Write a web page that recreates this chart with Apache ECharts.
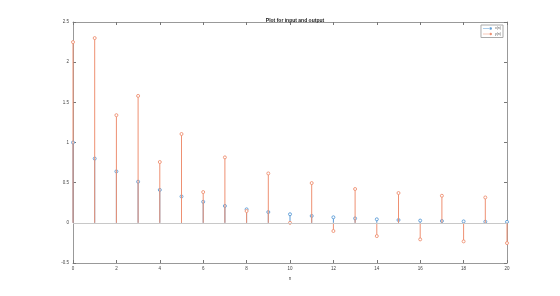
<!DOCTYPE html>
<html>
<head>
<meta charset="utf-8">
<script src="https://cdn.jsdelivr.net/npm/echarts@6/dist/echarts.min.js"></script>
<style>
html, body { margin: 0; padding: 0; background: #fff; }
#main { width: 560px; height: 296px; }
</style>
</head>
<body>
<div id="main"></div>
<script>
var n = [0, 1, 2, 3, 4, 5, 6, 7, 8, 9, 10, 11, 12, 13, 14, 15, 16, 17, 18, 19, 20];
// input x(n)
var xn = [1.0, 0.8, 0.64, 0.512, 0.41, 0.328, 0.262, 0.21, 0.168, 0.134, 0.107,
    0.086, 0.069, 0.055, 0.044, 0.035, 0.028, 0.023, 0.018, 0.014, 0.012];
// output y(n)
var yn = [2.25, 2.3, 1.34, 1.58, 0.757, 1.106, 0.383, 0.815, 0.147, 0.615, 0.0,
    0.495, -0.102, 0.421, -0.165, 0.371, -0.206, 0.337, -0.231, 0.316, -0.252];
var xTicks = { min: 0, max: 20, interval: 2 };
var yTicks = { min: -0.5, max: 2.5, interval: 0.5 };

var blue = '#5a9bd6';
var orange = '#ee9072';

function pairs(ys) {
    return n.map(function (v, i) { return [v, ys[i]]; });
}

function stem(params, api) {
    var x = api.value(0), y = api.value(1);
    var p0 = api.coord([x, 0]);
    var p1 = api.coord([x, y]);
    var c = api.visual('color');
    return {
        type: 'group',
        children: [
            { type: 'line', shape: { x1: p0[0], y1: p0[1], x2: p1[0], y2: p1[1] },
              style: { stroke: c, lineWidth: 1 } },
            { type: 'circle', shape: { cx: p1[0], cy: p1[1], r: 1.5 },
              style: { fill: '#fff', stroke: c, lineWidth: 0.9 } }
        ]
    };
}

function axisCommon() {
    return {
        axisLine: { show: true, onZero: false, lineStyle: { color: '#999', width: 1 } },
        axisTick: { show: true, inside: true, length: 3, lineStyle: { color: '#777' } },
        splitLine: { show: false }
    };
}

var legendIcon = 'path://M0,3.6h11v0.8h-11z M10,4a2,2 0 1,0 4,0a2,2 0 1,0 -4,0z';

option = {
    animation: false,
    backgroundColor: '#fff',
    title: {
        text: 'Plot for input and output',
        left: 290,
        top: 13,
        textAlign: 'center',
        textStyle: { fontSize: 5, fontWeight: 'bold', color: '#222', fontFamily: 'Liberation Sans' }
    },
    legend: {
        right: 57,
        top: 25,
        orient: 'vertical',
        data: ['x(n)', 'y(n)'],
        icon: legendIcon,
        itemWidth: 9,
        itemHeight: 3,
        itemGap: 1.5,
        padding: [1.5, 2],
        borderColor: '#aaa',
        borderWidth: 1,
        backgroundColor: '#fff',
        textStyle: { fontSize: 3.5, color: '#555', padding: [0, 0, 0, -2] }
    },
    grid: { left: 73, right: 53, top: 22, bottom: 33 },
    xAxis: [
        Object.assign({
            type: 'value', position: 'bottom',
            min: xTicks.min, max: xTicks.max, interval: xTicks.interval,
            name: 'n', nameLocation: 'middle', nameGap: 9,
            nameTextStyle: { fontSize: 4.5, color: '#444' },
            axisLabel: { fontSize: 4.5, color: '#444', margin: 3 }
        }, axisCommon()),
        Object.assign({
            type: 'value', position: 'top',
            min: xTicks.min, max: xTicks.max, interval: xTicks.interval,
            axisLabel: { show: false }
        }, axisCommon())
    ],
    yAxis: [
        Object.assign({
            type: 'value', position: 'left',
            min: yTicks.min, max: yTicks.max, interval: yTicks.interval,
            axisLabel: { fontSize: 4.5, color: '#444', margin: 4 }
        }, axisCommon()),
        Object.assign({
            type: 'value', position: 'right',
            min: yTicks.min, max: yTicks.max, interval: yTicks.interval,
            axisLabel: { show: false }
        }, axisCommon())
    ],
    series: [
        {
            name: 'x(n)',
            type: 'custom',
            renderItem: stem,
            itemStyle: { color: blue },
            data: pairs(xn),
            z: 2,
            markLine: {
                silent: true,
                symbol: 'none',
                label: { show: false },
                lineStyle: { color: '#c8c8c8', width: 1, type: 'solid' },
                data: [{ yAxis: 0 }]
            }
        },
        {
            name: 'y(n)',
            type: 'custom',
            renderItem: stem,
            itemStyle: { color: orange },
            data: pairs(yn),
            z: 3
        }
    ]
};

var myChart = echarts.init(document.getElementById('main'));
myChart.setOption(option);
</script>
</body>
</html>
